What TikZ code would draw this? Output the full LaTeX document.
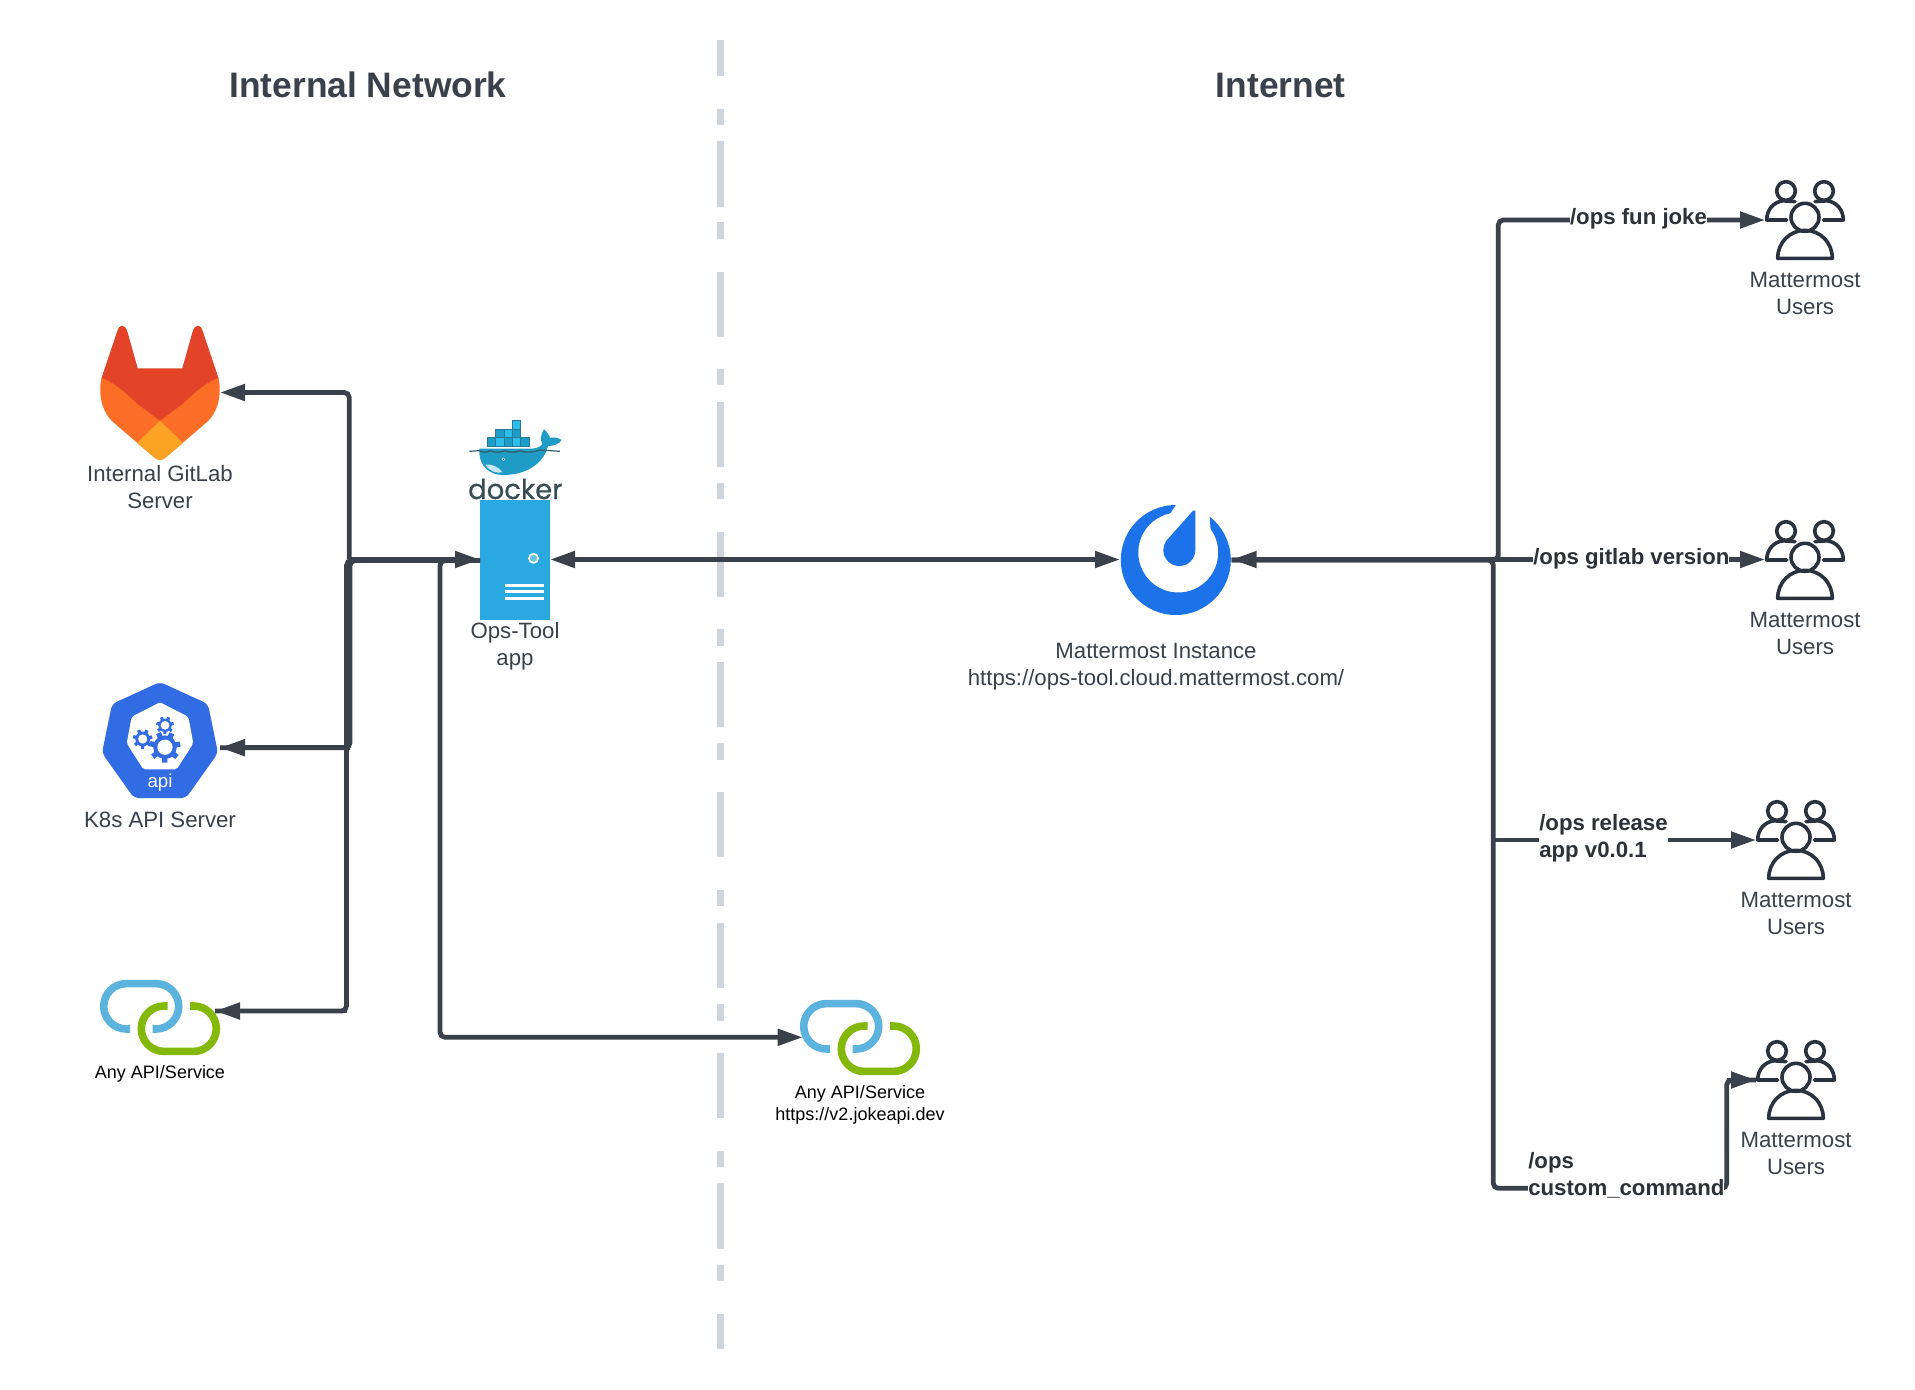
\documentclass[tikz,border=0pt]{standalone}
\usepackage{fontspec}
\setmainfont{Liberation Sans}
\newfontfamily\dockerfont[FakeBold=0.6]{Poppins}
\usetikzlibrary{arrows.meta}
\definecolor{linec}{HTML}{3A414A}
\definecolor{txtc}{HTML}{3A414A}
\definecolor{boldc}{HTML}{2D3138}
\definecolor{dashc}{HTML}{CED5DD}
\definecolor{userc}{HTML}{2A3240}
\definecolor{srvc}{HTML}{29A9E0}
\definecolor{k8sc}{HTML}{326CE5}
\definecolor{mmc}{HTML}{1C72E8}
\definecolor{glr}{HTML}{E24329}
\definecolor{glo}{HTML}{FC6D26}
\definecolor{gly}{HTML}{FCA326}
\definecolor{linkb}{HTML}{5CB4DE}
\definecolor{linkg}{HTML}{84B80A}
\definecolor{dkhull}{HTML}{1E9CC6}
\definecolor{dklight}{HTML}{2BBDEC}
\definecolor{dkdark}{HTML}{1A9DC8}
\definecolor{dkword}{HTML}{394D54}
\tikzset{
  >={Triangle[length=25pt,width=16pt]},
  conn/.style={draw=linec,line width=4.8pt,rounded corners=5pt},
  iconbox/.style={inner sep=0pt,outer sep=0pt,draw=none,fill=none},
  lbl/.style={inner sep=0pt,outer sep=0pt,align=center,text=txtc,font=\fontsize{22.2}{27}\selectfont},
  smalllbl/.style={inner sep=0pt,outer sep=0pt,align=center,text=black,font=\fontsize{18}{21.6}\selectfont},
  titlelbl/.style={inner sep=0pt,outer sep=0pt,text=txtc,anchor=base,font=\fontsize{35.4}{40}\selectfont\bfseries},
  cmdlbl/.style={inner sep=0pt,outer sep=0pt,fill=white,align=left,text=boldc,font=\fontsize{22.2}{27}\selectfont\bfseries},
  userline/.style={draw=userc,line width=3.6pt,line cap=round,line join=round},
}
\newcommand{\usersicon}[2]{%
  \begin{scope}[shift={(#1,#2)}]
    \draw[userline] (0,0) circle[radius=14];
    \draw[userline] (-27.3,-41) -- (27.3,-41) .. controls (27.3,-25) and (15,-13) .. (0,-13) .. controls (-15,-13) and (-27.3,-25) .. cycle;
    \draw[userline] (-19,26.3) circle[radius=9.3];
    \draw[userline] (19,26.3) circle[radius=9.3];
    \draw[userline] (-18.3,-2.7) -- (-38.3,-2.7) .. controls (-38.3,8) and (-31,15.5) .. (-22,16.5) -- (-10,15.7);
    \draw[userline] (18.3,-2.7) -- (38.3,-2.7) .. controls (38.3,8) and (31,15.5) .. (22,16.5) -- (10,15.7);
  \end{scope}}
\newcommand{\linkicon}[2]{%
  \begin{scope}[shift={(#1,#2)}]
    \draw[linkb,line width=7.6pt] (-30,-11.7) -- (-33.6,-11.7) arc[start angle=270,end angle=90,radius=22.7] -- (-4,33.7) arc[start angle=90,end angle=-90,radius=22.7] -- (-7.3,-11.7);
    \draw[linkg,line width=7.6pt] (7.7,11.3) -- (4,11.3) arc[start angle=90,end angle=270,radius=22.7] -- (33.6,-34.1) arc[start angle=-90,end angle=90,radius=22.7] -- (30,11.3);
  \end{scope}}
\newcommand{\geartool}[4]{%
  \foreach \a in {0,51.4,102.9,154.3,205.7,257.1,308.6}
    \draw[k8sc,line width=#3*0.34pt] (#1,#2) -- ++(\a+12:#3);
  \fill[k8sc] (#1,#2) circle[radius=#3*0.76];
  \fill[white] (#1,#2) circle[radius=#4];}
\begin{document}
\begin{tikzpicture}[x=1pt,y=1pt]
\useasboundingbox (0,0) rectangle (1915,-1390);
\fill[white] (0,0) rectangle (1915,-1390);

% divider
\foreach \s/\e in {40/75.5,108.5/125,140.5/206.5,222/238.5,271.5/336.5,369/385,401.6/466.7,483/499,532/597,629/646,662/727,743/760,792/857,890/906,922.5/987.5,1004/1021,1052.5/1117.6,1151/1167,1183/1248.5,1265/1281,1313.6/1349}
  \fill[dashc] (717,-\s) rectangle (724,-\e);

% titles
\node[titlelbl] (t1) at (368,-97.7) {Internal Network};
\node[titlelbl] (t2) at (1280.8,-97.4) {Internet};

% icon anchors
\node[iconbox,minimum width=120pt,minimum height=135pt] (gitlab) at (160,-392.5) {};
\node[iconbox,minimum width=120pt,minimum height=114pt] (k8s) at (160,-740) {};
\node[iconbox,minimum width=120pt,minimum height=75pt] (linkA) at (160,-1017.5) {};
\node[iconbox,minimum width=120pt,minimum height=75pt] (linkB) at (860,-1037.5) {};
\node[iconbox,minimum width=111.7pt,minimum height=109pt] (mm) at (1175.85,-559.5) {};
\node[iconbox,minimum width=80pt,minimum height=80pt] (u1) at (1805,-220) {};
\node[iconbox,minimum width=80pt,minimum height=80pt] (u2) at (1805,-560) {};
\node[iconbox,minimum width=80pt,minimum height=80pt] (u3) at (1796,-840) {};
\node[iconbox,minimum width=80pt,minimum height=80pt] (u4) at (1796,-1080) {};

% GitLab logo
\fill[glo] (101.5,-378) .. controls (98,-395) and (102,-412) .. (113,-422) -- (155,-458) .. controls (158,-460.5) and (162,-460.5) .. (165,-458) -- (207,-422) .. controls (218,-412) and (222,-395) .. (218.5,-378) -- (160,-370) -- cycle;
\fill[glr] (101.5,-378) -- (117,-332) .. controls (119,-323.5) and (125,-323.5) .. (127.5,-332) -- (137.7,-368.3) -- (182.3,-368.3) -- (192.5,-332) .. controls (195,-323.5) and (201,-323.5) .. (203,-332) -- (218.5,-378) .. controls (208,-381) and (196,-391) .. (183.3,-403.3) -- (160,-420.7) -- (136.7,-403.3) .. controls (124,-391) and (112,-381) .. cycle;
\fill[gly] (160,-420.7) -- (183,-443) -- (165,-458) .. controls (162,-460.5) and (158,-460.5) .. (155,-458) -- (137,-443) -- cycle;

% Kubernetes logo
\fill[k8sc,rounded corners=5pt] (160,-682) -- (208,-704) -- (218,-753) -- (186,-798) -- (134,-798) -- (102,-753) -- (112,-704) -- cycle;
\fill[white,rounded corners=2pt] (160,-702.3) -- (188.3,-716.7) -- (193.3,-743.3) -- (176.7,-769.3) -- (143.3,-769.3) -- (126.7,-743.3) -- (131.7,-716.7) -- cycle;
\geartool{142.7}{-739}{9.8}{4.6}
\geartool{165}{-725.3}{8.8}{4.4}
\geartool{165}{-747.2}{15.5}{7.6}
\node[inner sep=0pt,text=white,font=\fontsize{18.7}{20}\selectfont,anchor=base] (apitxt) at (160,-787) {api};

% link logos
\linkicon{160}{-1017.3}
\linkicon{860}{-1037.3}

% Mattermost logo
\fill[mmc] (1175.8,-505) arc[start angle=90,end angle=412,radius=55] -- (1210.6,-529) arc[start angle=36,end angle=-258.5,radius=40] -- cycle;
\fill[mmc] (1193,-510.7) -- (1195.3,-510.7) -- (1195.3,-550) arc[start angle=0,end angle=-215,radius=16] -- cycle;

% users icons
\usersicon{1805}{-217.3}
\usersicon{1805}{-557.3}
\usersicon{1796}{-837.3}
\usersicon{1796}{-1077.3}

% Docker logo
\node[inner sep=0pt,text=dkword,anchor=base,font=\dockerfont\fontsize{27.5}{30}\selectfont] (dockerword) at (515.3,-499) {docker};
\begin{scope}[shift={(460,-410)},x=0.33333pt,y=-0.33333pt]
  \fill[dkhull] (58,116) -- (210,116) .. controls (228,116) and (240,112) .. (247,102) .. controls (240,90) and (243,70) .. (252,58) .. controls (262,66) and (268,76) .. (270,84) .. controls (282,80) and (296,84) .. (305,90) .. controls (296,103) and (280,108) .. (264,108) .. controls (255,150) and (210,195) .. (130,195) .. controls (90,195) and (55,170) .. (58,116) -- cycle;
  \fill[white!75!dkhull] (76,164) .. controls (92,160) and (115,170) .. (128,187) .. controls (108,191) and (88,183) .. (76,164) -- cycle;
  \fill[white] (130,148) circle[radius=5];
  \fill[dkword] (130,148) circle[radius=2.5];
  \draw[dkword!80!dkhull,line width=1.2pt] (28,124) -- (58,122) .. controls (70,128) and (80,128) .. (90,122) .. controls (105,128) and (120,128) .. (135,122) .. controls (150,128) and (165,128) .. (180,122) .. controls (195,128) and (215,128) .. (240,120) -- (300,124);
  \foreach \cx/\cy/\cc in {82/83/dkdark,107/83/dklight,132/83/dkdark,157/83/dklight,182/83/dkdark,107/58/dkdark,132/58/dklight,157/58/dkdark,157/32/dklight}
    \filldraw[fill=\cc,draw=dkword!45!dkhull,line width=0.7pt] (\cx,\cy) rectangle ++(25,25);
\end{scope}

% Ops-Tool server
\node[inner sep=0pt,outer sep=0pt,fill=srvc,minimum width=70pt,minimum height=120pt] (ops) at (515,-559.5) {};
\filldraw[fill=srvc!70!white,draw=white,line width=1.6pt] (533.5,-558.3) circle[radius=4.6];
\foreach \y in {585.3,591.2,598.7}
  \fill[white] (505,-\y+1.6) rectangle (544,-\y-1.6);

% connectors, left
\coordinate (busG) at (349.3,-559.5);
\coordinate (busK) at (350,-747.7);
\coordinate (busA) at (346.5,-1011);
\coordinate (busB) at (440,-1037.3);
\draw[conn,<-] (gitlab.east) -| (busG);
\draw[conn,->] (busG) -- (ops.west);
\draw[conn] ([yshift=-1pt]ops.west) -| (busK) -- ([yshift=-7.7pt]k8s.east);
\draw[conn,->] (busK) -- ([yshift=-7.7pt]k8s.east);
\draw[conn] ([yshift=-1pt]ops.west) -| (busA) -- ([xshift=-5pt,yshift=6.5pt]linkA.east);
\draw[conn,->] (busA) -- ([xshift=-5pt,yshift=6.5pt]linkA.east);
\draw[conn,->] ([yshift=-1pt]ops.west) -| (busB) -- ([xshift=2.7pt,yshift=0.2pt]linkB.west);

% connectors, middle and right
\coordinate (busU1) at (1498.3,-220);
\coordinate (busU3) at (1493.3,-840);
\coordinate (busU4a) at (1493.3,-1188.3);
\coordinate (busU4b) at (1726.7,-1188.3);
\coordinate (busU4c) at (1726.7,-1080);
\draw[conn,<->] (ops.east) -- (mm.west);
\draw[conn,<->] (mm.east) -- ([yshift=0.5pt]u2.west);
\draw[conn,->] ([yshift=-0.5pt]mm.east) -| (busU1) -- (u1.west);
\draw[conn] ([yshift=-0.5pt]mm.east) -| (busU4a) -- (busU4b) -- (busU4c) -- (u4.west);
\draw[conn,->] (busU4c) -- (u4.west);
\draw[conn,->] (busU3) -- (u3.west);

% command labels
\node[cmdlbl,anchor=base west] (c1) at (1570,-224) {/ops fun joke};
\node[cmdlbl,anchor=base west] (c2) at (1533.3,-564) {/ops gitlab version};
\node[cmdlbl,anchor=west] (c3) at (1539.3,-838.4) {/ops release\\app v0.0.1};
\node[cmdlbl,anchor=west] (c4) at (1528.3,-1175.3) {/ops\\custom\_command};

% text labels
\node[lbl] (l1) at (160,-487.2) {Internal GitLab\\Server};
\node[lbl] (l2) at (160,-820) {K8s API Server};
\node[smalllbl] (l3) at (160,-1074) {Any API/Service};
\node[lbl] (l4) at (515,-646.6) {Ops-Tool\\app};
\node[smalllbl] (l5) at (860,-1105) {Any API/Service\\https://v2.jokeapi.dev};
\node[lbl] (l6) at (1156,-666.6) {Mattermost Instance\\https://ops-tool.cloud.mattermost.com/};
\node[lbl] (l7) at (1805,-293.7) {Mattermost\\Users};
\node[lbl] (l8) at (1805,-633.7) {Mattermost\\Users};
\node[lbl] (l9) at (1796,-913.7) {Mattermost\\Users};
\node[lbl] (l10) at (1796,-1153.7) {Mattermost\\Users};
\end{tikzpicture}
\end{document}
